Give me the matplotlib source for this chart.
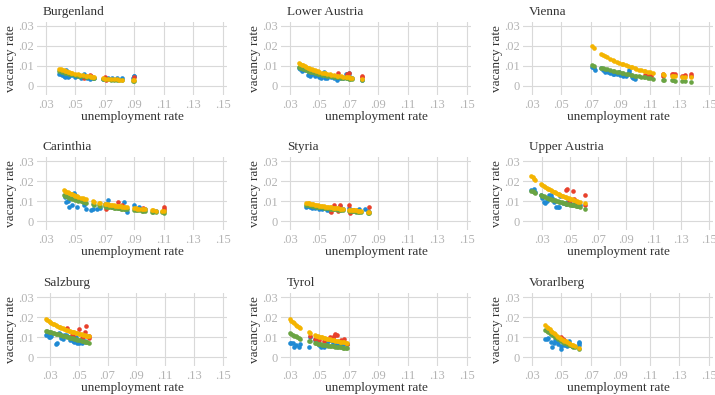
import numpy as np
import matplotlib
matplotlib.use('Agg')
import matplotlib.pyplot as plt

plt.rcParams['font.family'] = ['Liberation Serif', 'DejaVu Serif']

regions = ['Burgenland', 'Lower Austria', 'Vienna',
           'Carinthia', 'Styria', 'Upper Austria',
           'Salzburg', 'Tyrol', 'Vorarlberg']

x_ticks = [.03, .05, .07, .09, .11, .13, .15]
x_tick_labels = ['.03', '.05', '.07', '.09', '.11', '.13', '.15']
y_ticks = [0, .01, .02, .03]
y_tick_labels = ['0', '.01', '.02', '.03']

# ---- Burgenland
bgl_fit_u = [.039, .040, .041, .042, .043, .044, .045, .046, .047, .048, .050, .052, .053, .055, .057,
             .058, .060, .061, .062, .063, .069, .070, .072, .074, .076, .078, .080, .082, .089, .090]
bgl_green = [.0075, .0073, .0071, .0069, .0067, .0065, .0063, .0062, .0060, .0058, .0055, .0052, .0051, .0049, .0047,
             .0046, .0044, .0043, .0042, .0041, .0035, .0034, .0033, .0032, .0031, .0030, .0029, .0028, .0025, .0025]
bgl_yellow = [.0086, .0083, .0081, .0078, .0076, .0074, .0071, .0069, .0067, .0065, .0062, .0058, .0057, .0054, .0052,
              .0051, .0049, .0047, .0046, .0045, .0038, .0037, .0036, .0035, .0034, .0033, .0032, .0031, .0028, .0028]
bgl_blue_u = [.039, .040, .041, .042, .043, .044, .045, .046, .048, .050, .052, .054, .056, .057, .058, .060,
              .061, .062, .063, .069, .070, .072, .075, .078, .082, .089, .090, .090]
bgl_blue = [.0062, .0058, .0055, .0050, .0047, .0078, .0046, .0048, .0055, .0045, .0050, .0041, .0062, .0046, .0040, .0036,
            .0045, .0040, .0041, .0036, .0033, .0040, .0038, .0042, .0040, .0041, .0048, .0052]
bgl_red_u = [.056, .060, .061, .070, .071, .090]
bgl_red = [.0040, .0055, .0050, .0045, .0030, .0045]

# ---- Lower Austria
la_fit_u = [.036, .037, .038, .039, .040, .041, .042, .043, .044, .045, .046, .047, .048, .049, .050, .052,
            .053, .054, .055, .057, .058, .060, .062, .063, .065, .066, .068, .069, .070, .071, .072, .079]
la_green = [.0095, .0092, .0089, .0086, .0083, .0080, .0077, .0075, .0072, .0070, .0068, .0066, .0064, .0062, .0060, .0057,
            .0055, .0054, .0052, .0050, .0049, .0046, .0044, .0043, .0041, .0040, .0038, .0038, .0037, .0036, .0035, .0030]
la_yellow = [.0115, .0111, .0107, .0103, .0099, .0096, .0092, .0089, .0086, .0083, .0080, .0078, .0075, .0073, .0071, .0067,
             .0065, .0063, .0061, .0058, .0057, .0054, .0051, .0050, .0048, .0047, .0045, .0044, .0043, .0042, .0041, .0036]
la_blue_u = [.036, .037, .038, .040, .042, .043, .044, .045, .047, .048, .050, .051, .053, .054, .055, .058,
             .060, .062, .064, .066, .068, .069, .070, .071, .072, .079]
la_blue = [.0090, .0085, .0075, .0078, .0055, .0060, .0052, .0062, .0048, .0055, .0045, .0040, .0068, .0042, .0040, .0045,
           .0040, .0032, .0040, .0038, .0058, .0062, .0066, .0045, .0040, .0032]
la_red_u = [.063, .069, .070, .071, .079, .079]
la_red = [.0065, .0060, .0065, .0040, .0050, .0045]

# ---- Vienna
w_fit_u = [.071, .072, .077, .078, .080, .081, .083, .085, .086, .088, .089, .091, .092, .094, .095, .097, .098,
           .100, .101, .103, .104, .106, .107, .109, .110, .112, .119, .120, .125, .126, .127, .132, .134, .138]
w_green = [.0105, .0101, .0091, .0089, .0085, .0083, .0080, .0076, .0074, .0071, .0069, .0066, .0064, .0061, .0059, .0057, .0055,
           .0052, .0050, .0048, .0046, .0044, .0043, .0041, .0040, .0037, .0032, .0031, .0028, .0028, .0027, .0025, .0024, .0022]
w_yellow = [.0200, .0192, .0162, .0157, .0148, .0144, .0137, .0130, .0126, .0120, .0117, .0112, .0109, .0104, .0101, .0097, .0094,
            .0089, .0086, .0082, .0080, .0076, .0074, .0071, .0069, .0066, .0058, .0056, .0052, .0051, .0050, .0047, .0046, .0044]
w_blue_u = [.071, .072, .073, .077, .078, .080, .082, .083, .085, .086, .088, .089, .090, .092, .094, .095, .096,
            .096, .098, .099, .100]
w_blue = [.0095, .0090, .0078, .0090, .0080, .0072, .0068, .0065, .0062, .0060, .0058, .0068, .0055, .0052, .0050, .0060, .0078,
          .0070, .0045, .0040, .0035]
w_red_u = [.107, .108, .110, .111, .119, .119, .125, .126, .127, .132, .133, .134, .138, .138]
w_red = [.0055, .0050, .0055, .0048, .0058, .0048, .0062, .0060, .0058, .0052, .0048, .0055, .0058, .0050]

# ---- Carinthia
k_fit_u = [.042, .043, .044, .045, .046, .047, .048, .049, .050, .051, .052, .054, .055, .056, .057, .062,
           .063, .066, .067, .070, .071, .072, .073, .074, .075, .076, .077, .078, .079, .080, .081, .082,
           .083, .084, .085, .090, .091, .092, .093, .095, .096, .097, .102, .103, .105, .109, .110]
k_green = [.0130, .0126, .0123, .0120, .0117, .0114, .0111, .0109, .0106, .0104, .0102, .0098, .0096, .0094, .0092, .0084,
           .0082, .0078, .0077, .0073, .0072, .0071, .0070, .0069, .0068, .0067, .0066, .0065, .0064, .0063, .0062, .0061,
           .0061, .0060, .0059, .0055, .0054, .0053, .0053, .0051, .0051, .0050, .0047, .0046, .0045, .0043, .0042]
k_yellow = [.0155, .0151, .0147, .0143, .0139, .0136, .0133, .0130, .0127, .0124, .0121, .0116, .0113, .0111, .0109, .0099,
            .0097, .0092, .0090, .0086, .0085, .0083, .0082, .0081, .0080, .0078, .0077, .0076, .0075, .0074, .0073, .0072,
            .0071, .0070, .0069, .0064, .0063, .0062, .0061, .0060, .0059, .0058, .0054, .0053, .0052, .0049, .0048]
k_blue_u = [.043, .044, .045, .046, .048, .049, .050, .051, .054, .056, .057, .061, .062, .065, .067, .070,
            .072, .074, .077, .080, .083, .084, .085, .090, .093, .097, .103, .105, .110]
k_blue = [.0120, .0095, .0098, .0070, .0078, .0142, .0130, .0070, .0105, .0080, .0060, .0055, .0062, .0058, .0065, .0085,
          .0105, .0075, .0070, .0065, .0095, .0060, .0045, .0078, .0072, .0060, .0050, .0050, .0052]
k_red_u = [.071, .075, .079, .082, .096, .110, .110]
k_red = [.0058, .0070, .0095, .0080, .0065, .0068, .0060]

# ---- Styria
st_fit_u = [.041, .042, .043, .044, .045, .046, .047, .048, .049, .050, .051, .052, .053, .054, .055, .056,
            .057, .058, .059, .060, .061, .062, .063, .064, .065, .066, .070, .071, .072, .073, .074, .075,
            .076, .077, .078, .083, .084]
st_green = [.0082, .0081, .0079, .0078, .0076, .0075, .0074, .0072, .0071, .0070, .0069, .0068, .0066, .0065, .0064, .0063,
            .0062, .0061, .0060, .0059, .0058, .0058, .0057, .0056, .0055, .0054, .0051, .0050, .0049, .0049, .0048, .0047,
            .0046, .0046, .0045, .0042, .0041]
st_yellow = [.0092, .0090, .0088, .0087, .0085, .0083, .0082, .0080, .0079, .0077, .0076, .0075, .0073, .0072, .0071, .0070,
             .0069, .0068, .0067, .0066, .0065, .0064, .0063, .0062, .0061, .0060, .0057, .0056, .0055, .0054, .0054, .0053,
             .0052, .0051, .0051, .0047, .0046]
st_blue_u = [.041, .042, .044, .045, .047, .050, .052, .055, .057, .060, .062, .064, .066, .070, .072, .073,
             .076, .077, .081, .083, .084]
st_blue = [.0070, .0075, .0068, .0065, .0066, .0060, .0058, .0055, .0052, .0065, .0062, .0075, .0058, .0065, .0052, .0055,
           .0056, .0058, .0058, .0052, .0045]
st_red_u = [.058, .060, .063, .064, .070, .071, .073, .084]
st_red = [.0045, .0078, .0050, .0080, .0080, .0040, .0055, .0070]

# ---- Upper Austria
ooe_fit_u = [.022, .023, .024, .025, .029, .030, .031, .032, .033, .034, .035, .036, .037, .038, .039, .040, .041,
             .042, .043, .044, .045, .046, .047, .048, .049, .050, .051, .052, .053, .054, .055, .056, .057, .061]
ooe_green = [.0152, .0148, .0144, .0141, .0129, .0126, .0123, .0120, .0117, .0115, .0112, .0110, .0107, .0105, .0103, .0101, .0099,
             .0097, .0095, .0093, .0091, .0089, .0087, .0086, .0084, .0082, .0081, .0079, .0078, .0076, .0075, .0074, .0072, .0062]
ooe_yellow = [.0225, .0218, .0212, .0206, .0186, .0181, .0176, .0171, .0167, .0162, .0158, .0154, .0150, .0147, .0143, .0140, .0136,
              .0133, .0130, .0127, .0124, .0121, .0118, .0116, .0113, .0110, .0108, .0106, .0103, .0101, .0099, .0097, .0095, .0088]
ooe_blue_u = [.022, .023, .024, .025, .029, .030, .031, .032, .033, .035, .036, .037, .038, .040, .041, .042,
              .043, .045, .047, .048, .050, .051, .053, .054, .056, .057]
ooe_blue = [.0155, .0150, .0162, .0145, .0128, .0115, .0095, .0088, .0100, .0130, .0132, .0115, .0095, .0070, .0072, .0068,
            .0125, .0090, .0085, .0095, .0090, .0080, .0085, .0080, .0075, .0078]
ooe_red_u = [.047, .048, .049, .052, .053, .055, .056, .061, .061]
ooe_red = [.0155, .0162, .0095, .0148, .0112, .0085, .0090, .0130, .0080]

# ---- Salzburg
sbg_fit_u = [.027, .028, .029, .030, .031, .032, .033, .034, .035, .036, .037, .038, .039, .040, .041, .042,
             .043, .044, .045, .046, .047, .048, .049, .050, .051, .052, .053, .054, .055, .056, .057]
sbg_green = [.0132, .0129, .0127, .0125, .0123, .0121, .0119, .0117, .0115, .0113, .0111, .0109, .0107, .0105, .0103, .0101,
             .0099, .0097, .0095, .0093, .0091, .0089, .0087, .0085, .0083, .0081, .0079, .0077, .0075, .0073, .0071]
sbg_yellow = [.0190, .0185, .0180, .0176, .0171, .0167, .0163, .0159, .0156, .0152, .0149, .0146, .0143, .0140, .0137, .0134,
              .0132, .0129, .0127, .0125, .0123, .0121, .0119, .0117, .0115, .0113, .0111, .0109, .0107, .0105, .0103]
sbg_blue_u = [.027, .028, .029, .030, .031, .034, .035, .036, .037, .038, .039, .040, .041, .042, .043, .044,
              .045, .046, .047, .048, .049, .050, .051, .052, .054]
sbg_blue = [.0110, .0115, .0100, .0102, .0105, .0065, .0070, .0120, .0115, .0095, .0090, .0110, .0108, .0105, .0100, .0085,
            .0095, .0080, .0075, .0100, .0072, .0070, .0075, .0068, .0080]
sbg_red_u = [.042, .045, .046, .050, .052, .053, .054, .055, .057, .057]
sbg_red = [.0145, .0110, .0105, .0142, .0095, .0100, .0125, .0155, .0105, .0095]

# ---- Tyrol
t_fit_u = [.030, .031, .032, .033, .034, .035, .036, .037, .043, .044, .047, .048, .049, .050, .051, .052, .053,
           .054, .055, .056, .057, .058, .059, .060, .061, .062, .063, .064, .065, .066, .067, .068, .069]
t_green = [.0122, .0117, .0112, .0107, .0103, .0099, .0095, .0092, .0080, .0078, .0071, .0069, .0067, .0065, .0064, .0062, .0061,
           .0060, .0058, .0057, .0056, .0055, .0054, .0053, .0052, .0051, .0050, .0049, .0048, .0047, .0046, .0045, .0044]
t_yellow = [.0190, .0182, .0175, .0168, .0162, .0156, .0150, .0145, .0125, .0120, .0110, .0107, .0105, .0102, .0100, .0098, .0096,
            .0094, .0092, .0090, .0088, .0086, .0085, .0083, .0082, .0080, .0079, .0077, .0076, .0075, .0073, .0072, .0071]
t_blue_u = [.030, .031, .032, .033, .034, .036, .037, .043, .044, .047, .048, .049, .050, .051, .052, .053,
            .055, .056, .057, .058, .059, .060, .061, .063, .065, .067, .069]
t_blue = [.0070, .0068, .0070, .0052, .0062, .0050, .0065, .0050, .0100, .0085, .0080, .0075, .0060, .0050, .0055, .0050,
          .0075, .0080, .0085, .0085, .0070, .0065, .0065, .0062, .0060, .0065, .0065]
t_red_u = [.044, .047, .050, .053, .057, .059, .060, .061, .062, .065, .066, .067, .069]
t_red = [.0105, .0090, .0085, .0080, .0100, .0095, .0105, .0115, .0110, .0085, .0080, .0088, .0065]

# ---- Vorarlberg
v_fit_u = [.039, .040, .041, .042, .043, .044, .045, .046, .047, .048, .049, .050, .051, .052, .053, .054,
           .055, .056, .057, .058, .059, .062]
v_green = [.0135, .0130, .0124, .0118, .0113, .0108, .0103, .0098, .0093, .0089, .0084, .0080, .0076, .0072, .0068, .0065,
           .0061, .0058, .0055, .0052, .0050, .0040]
v_yellow = [.0160, .0152, .0145, .0138, .0131, .0125, .0119, .0113, .0107, .0102, .0097, .0092, .0087, .0082, .0078, .0074,
            .0070, .0066, .0062, .0058, .0055, .0045]
v_blue_u = [.039, .040, .041, .043, .044, .045, .046, .047, .048, .050, .050, .052, .053, .054, .055, .056,
            .057, .062, .062, .062]
v_blue = [.0090, .0092, .0095, .0075, .0050, .0070, .0085, .0080, .0065, .0040, .0055, .0060, .0058, .0055, .0080, .0060,
          .0055, .0060, .0070, .0075]
v_red_u = [.049, .050, .051, .052]
v_red = [.0095, .0100, .0092, .0085]

panels = [
    (bgl_blue_u, bgl_blue, bgl_red_u, bgl_red, bgl_fit_u, bgl_green, bgl_yellow),
    (la_blue_u, la_blue, la_red_u, la_red, la_fit_u, la_green, la_yellow),
    (w_blue_u, w_blue, w_red_u, w_red, w_fit_u, w_green, w_yellow),
    (k_blue_u, k_blue, k_red_u, k_red, k_fit_u, k_green, k_yellow),
    (st_blue_u, st_blue, st_red_u, st_red, st_fit_u, st_green, st_yellow),
    (ooe_blue_u, ooe_blue, ooe_red_u, ooe_red, ooe_fit_u, ooe_green, ooe_yellow),
    (sbg_blue_u, sbg_blue, sbg_red_u, sbg_red, sbg_fit_u, sbg_green, sbg_yellow),
    (t_blue_u, t_blue, t_red_u, t_red, t_fit_u, t_green, t_yellow),
    (v_blue_u, v_blue, v_red_u, v_red, v_fit_u, v_green, v_yellow),
]

c_blue = '#1f8ad4'
c_red = '#e8412c'
c_green = '#6aa443'
c_yellow = '#f4b400'
grid_c = '#d9d9d9'
tick_c = '#b3b3b3'
text_c = '#333333'

W, H = 715, 395
fig = plt.figure(figsize=(W / 100, H / 100), dpi=100)
fig.patch.set_facecolor('white')

col_left = [37, 281, 523]
row_top = [22, 157, 293]
aw, ah = 190, 73
ms = 11

for i, name in enumerate(regions):
    r, c = divmod(i, 3)
    ax = fig.add_axes([col_left[c] / W, 1 - (row_top[r] + ah) / H, aw / W, ah / H])
    bu, bv, ru, rv, fu, fg, fy = panels[i]

    ax.scatter(bu, bv, s=ms, color=c_blue, linewidths=0, zorder=3)
    ax.scatter(ru, rv, s=ms, color=c_red, linewidths=0, zorder=3)
    ax.scatter(fu, fg, s=ms, color=c_green, linewidths=0, zorder=3)
    ax.scatter(fu, fy, s=ms, color=c_yellow, linewidths=0, zorder=3)

    xmin = min(min(bu), min(fu), 0.03)
    ax.set_xlim(xmin - 0.006, 0.153)
    ax.set_ylim(-0.0045, 0.032)

    ax.set_xticks(x_ticks)
    ax.set_xticklabels(x_tick_labels)
    ax.set_yticks(y_ticks)
    ax.set_yticklabels(y_tick_labels)
    ax.tick_params(length=0, labelsize=9, labelcolor=tick_c)
    ax.tick_params(axis='x', pad=3)
    ax.tick_params(axis='y', pad=2)

    ax.grid(True, color=grid_c, linewidth=0.8)
    ax.set_axisbelow(True)
    for sp in ax.spines.values():
        sp.set_visible(False)

    ax.set_xlabel('unemployment rate', fontsize=9.5, color=text_c, labelpad=0)
    ax.set_ylabel('vacancy rate', fontsize=9.5, color=text_c, labelpad=1)
    ax.text(0.03, 1.06, name, transform=ax.transAxes, fontsize=9.5,
            color=text_c, ha='left', va='bottom')

plt.savefig('out.png', dpi=100)
